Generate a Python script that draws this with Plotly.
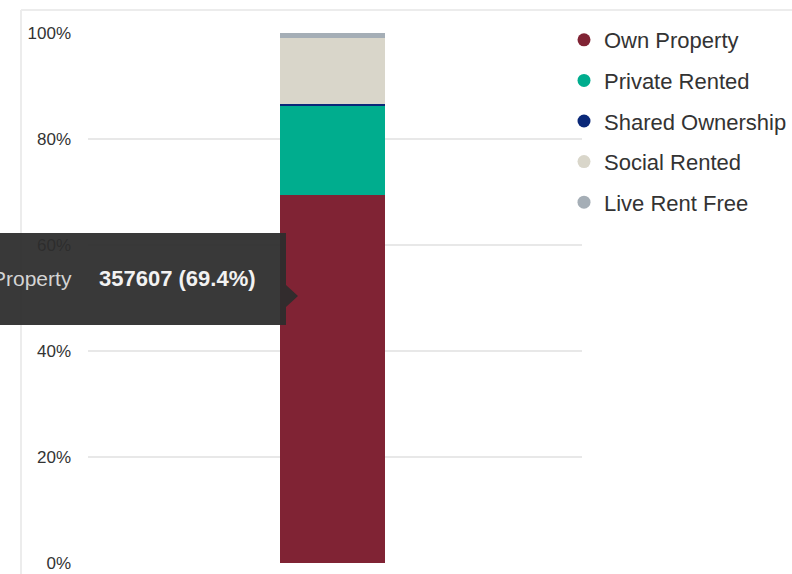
import plotly.graph_objects as go

# Housing tenure breakdown (household counts)
categories = ["Tenure"]
tenures = ["Own Property", "Private Rented", "Shared Ownership", "Social Rented", "Live Rent Free"]
counts = [357607, 86600, 2000, 64400, 4700]
colors = ["#802334", "#00ad8e", "#0a2878", "#d9d6ca", "#a5aeb6"]
y_ticks = [0, 20, 40, 60, 80, 100]
y_tick_text = [f"{v}%" for v in y_ticks]

W, H = 792, 574
L, R, T, B = 88, 582, 33, 563  # plot area in pixels


def px(x):
    return (x - L) / (R - L)


def py(y):
    return (B - y) / (B - T)


fig = go.Figure()

for name, val, col in zip(tenures, counts, colors):
    fig.add_trace(go.Bar(
        x=categories, y=[val], name=name, marker=dict(color=col, line=dict(width=0)),
        width=0.2125, showlegend=False, hoverinfo="skip",
    ))
    # circle markers for the legend entries
    fig.add_trace(go.Scatter(
        x=[None], y=[None], mode="markers", name=name, legendgroup=name,
        marker=dict(color=col, size=13, symbol="circle"), showlegend=True,
    ))

fig.update_layout(
    width=W, height=H,
    margin=dict(l=L, r=W - R, t=T, b=H - B, autoexpand=False),
    barmode="stack", barnorm="percent",
    plot_bgcolor="white", paper_bgcolor="white",
    font=dict(family="Liberation Sans, Arial, sans-serif", color="#333333"),
    xaxis=dict(range=[-0.495, 0.505], showticklabels=False, showgrid=False,
               zeroline=False, showline=False, ticks="", automargin=False),
    yaxis=dict(range=[0, 100], tickmode="array", tickvals=y_ticks, ticktext=y_tick_text,
               tickfont=dict(size=17, color="#333333"), automargin=False,
               showgrid=True, gridcolor="#e8e8e8", gridwidth=1.5,
               zeroline=False, showline=False, ticks="", ticklabelstandoff=16),
    legend=dict(x=px(564), y=py(19), xanchor="left", yanchor="top",
                font=dict(size=22, color="#333333"), tracegroupgap=9,
                bgcolor="rgba(0,0,0,0)", itemclick=False),
    showlegend=True,
)

# outer frame lines of the chart container
fig.add_shape(type="line", xref="paper", yref="paper",
              x0=px(21), x1=px(21), y0=py(10), y1=py(580),
              line=dict(color="#ececec", width=2), layer="below")
fig.add_shape(type="line", xref="paper", yref="paper",
              x0=px(21), x1=px(800), y0=py(10), y1=py(10),
              line=dict(color="#ececec", width=2), layer="below")

# tooltip box for the highlighted segment
own = counts[0]
own_pct = own / sum(counts) * 100
box = [(-20, 233), (286, 233), (286, 285), (298, 296), (286, 307), (286, 325), (-20, 325)]
path = "M " + " L ".join(f"{px(x):.5f},{py(y):.5f}" for x, y in box) + " Z"
fig.add_shape(type="path", xref="paper", yref="paper", path=path,
              fillcolor="rgba(45,45,45,0.94)", line=dict(width=0), layer="above")

fig.add_annotation(xref="paper", yref="paper", x=px(74), y=py(278),
                   xanchor="right", yanchor="middle", showarrow=False,
                   text=tenures[0], font=dict(size=21, color="#d4d4d4"))
fig.add_annotation(xref="paper", yref="paper", x=px(97), y=py(278),
                   xanchor="left", yanchor="middle", showarrow=False,
                   text=f"<b>{own} ({own_pct:.1f}%)</b>",
                   font=dict(size=22, color="#f2f2f2"))

fig.write_html("out.html")
